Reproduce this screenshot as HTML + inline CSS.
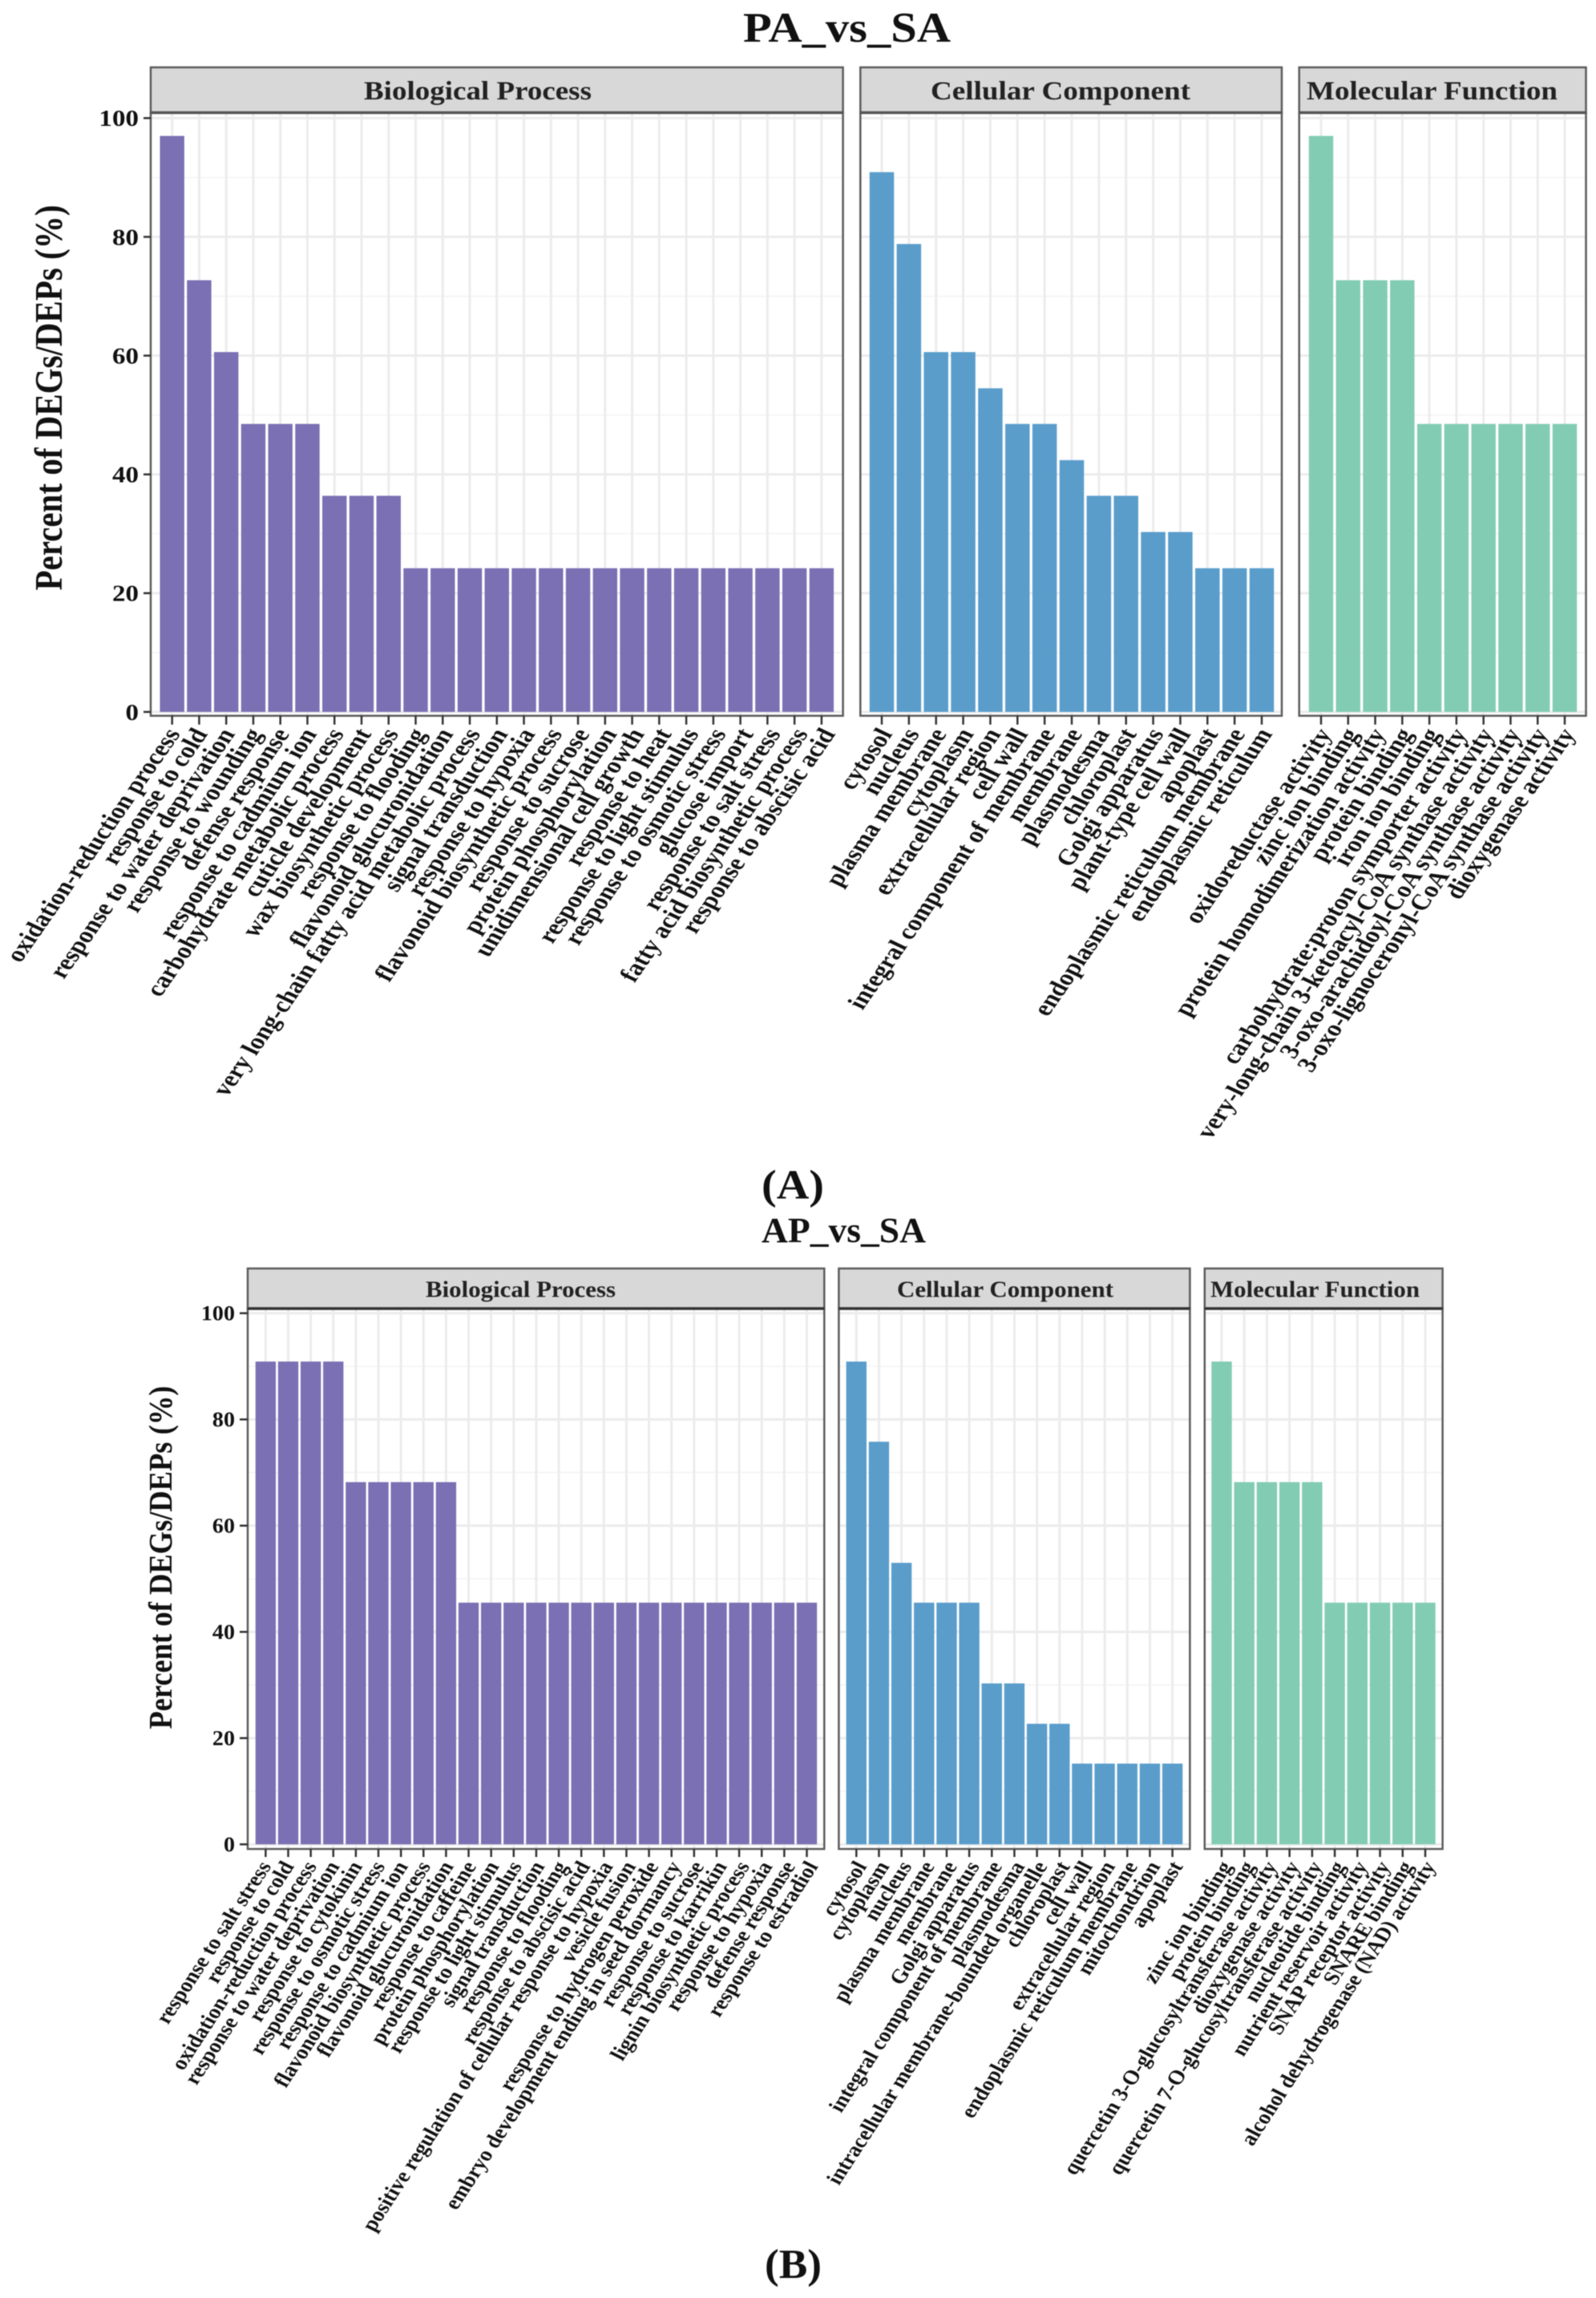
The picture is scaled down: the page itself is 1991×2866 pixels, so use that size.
<!DOCTYPE html>
<html lang="en">
<head>
<meta charset="utf-8">
<title>PA_vs_SA and AP_vs_SA GO enrichment</title>
<style>
html,body{margin:0;padding:0;background:#fff;}
#figure{display:block;width:1991px;height:2866px;font-family:"Liberation Serif",serif;font-weight:bold;filter:blur(0.6px);}
</style>
</head>
<body>
<svg id="figure" xmlns="http://www.w3.org/2000/svg" width="1991" height="2866" viewBox="0 0 1991 2866"></svg>
<script>
// ---- Figure A data: PA_vs_SA ----
const aBpCategories = ["oxidation-reduction process","response to cold","response to water deprivation","response to wounding","defense response","response to cadmium ion","carbohydrate metabolic process","cuticle development","wax biosynthetic process","response to flooding","flavonoid glucuronidation","very long-chain fatty acid metabolic process","signal transduction","response to hypoxia","flavonoid biosynthetic process","response to sucrose","protein phosphorylation","unidimensional cell growth","response to heat","response to light stimulus","response to osmotic stress","glucose import","response to salt stress","fatty acid biosynthetic process","response to abscisic acid"];
const aBpValues = [97,72.7,60.6,48.5,48.5,48.5,36.4,36.4,36.4,24.2,24.2,24.2,24.2,24.2,24.2,24.2,24.2,24.2,24.2,24.2,24.2,24.2,24.2,24.2,24.2];
const aCcCategories = ["cytosol","nucleus","plasma membrane","cytoplasm","extracellular region","cell wall","integral component of membrane","membrane","plasmodesma","chloroplast","Golgi apparatus","plant-type cell wall","apoplast","endoplasmic reticulum membrane","endoplasmic reticulum"];
const aCcValues = [90.9,78.8,60.6,60.6,54.5,48.5,48.5,42.4,36.4,36.4,30.3,30.3,24.2,24.2,24.2];
const aMfCategories = ["oxidoreductase activity","zinc ion binding","protein homodimerization activity","protein binding","iron ion binding","carbohydrate:proton symporter activity","very-long-chain 3-ketoacyl-CoA synthase activity","3-oxo-arachidoyl-CoA synthase activity","3-oxo-lignoceronyl-CoA synthase activity","dioxygenase activity"];
const aMfValues = [97,72.7,72.7,72.7,48.5,48.5,48.5,48.5,48.5,48.5];

// ---- Figure B data: AP_vs_SA ----
const bBpCategories = ["response to salt stress","response to cold","oxidation-reduction process","response to water deprivation","response to cytokinin","response to osmotic stress","response to cadmium ion","flavonoid biosynthetic process","flavonoid glucuronidation","response to caffeine","protein phosphorylation","response to light stimulus","signal transduction","response to flooding","response to abscisic acid","positive regulation of cellular response to hypoxia","vesicle fusion","response to hydrogen peroxide","embryo development ending in seed dormancy","response to sucrose","response to karrikin","lignin biosynthetic process","response to hypoxia","defense response","response to estradiol"];
const bBpValues = [90.9,90.9,90.9,90.9,68.2,68.2,68.2,68.2,68.2,45.5,45.5,45.5,45.5,45.5,45.5,45.5,45.5,45.5,45.5,45.5,45.5,45.5,45.5,45.5,45.5];
const bCcCategories = ["cytosol","cytoplasm","nucleus","plasma membrane","membrane","Golgi apparatus","integral component of membrane","plasmodesma","intracellular membrane-bounded organelle","chloroplast","cell wall","extracellular region","endoplasmic reticulum membrane","mitochondrion","apoplast"];
const bCcValues = [90.9,75.8,53,45.5,45.5,45.5,30.3,30.3,22.7,22.7,15.2,15.2,15.2,15.2,15.2];
const bMfCategories = ["zinc ion binding","protein binding","quercetin 3-O-glucosyltransferase activity","dioxygenase activity","quercetin 7-O-glucosyltransferase activity","nucleotide binding","nutrient reservoir activity","SNAP receptor activity","SNARE binding","alcohol dehydrogenase (NAD) activity"];
const bMfValues = [90.9,68.2,68.2,68.2,68.2,45.5,45.5,45.5,45.5,45.5];

// Shared y axis ticks
const yTickLabels = [0,20,40,60,80,100];
const yMinorTicks = [10,30,50,70,90];

const NS = "http://www.w3.org/2000/svg";
const svg = document.getElementById("figure");
const PURPLE = "#7b70b3", BLUE = "#5a9dcb", GREEN = "#82ccb3";
const GRID = "#ececec", BORDER = "#5c5c5c", INK = "#111111";

function make(tag, attrs, parent) {
  const el = document.createElementNS(NS, tag);
  for (const k in attrs) el.setAttribute(k, attrs[k]);
  (parent || svg).appendChild(el);
  return el;
}

function drawText(content, attrs, nameValue, parent) {
  const t = make("text", attrs, parent);
  t.textContent = content;
  
  
  return t;
}

function drawPanel(fig, p) {
  const g = make("g", {});
  
  

  const yScale = v => fig.y0 - (v / 100) * (fig.y0 - fig.y100);
  const n = p.categories.length;
  const step = (p.lastTick - p.firstTick) / (n - 1);
  const xScale = i => p.firstTick + i * step;
  const barW = step * 0.9;

  make("rect", {x:p.left, y:fig.stripBottom, width:p.right-p.left, height:fig.bottom-fig.stripBottom, fill:"#ffffff"}, g);

  yMinorTicks.forEach(v => {
    const m = make("line", {x1:p.left, x2:p.right, y1:yScale(v), y2:yScale(v), stroke:"#f3f3f3", "stroke-width":1.5}, g);
    
    
  });
  yTickLabels.forEach(v => {
    const m = make("line", {x1:p.left, x2:p.right, y1:yScale(v), y2:yScale(v), stroke:GRID, "stroke-width":3}, g);
    
    
  });
  p.categories.forEach((c, i) => {
    const m = make("line", {x1:xScale(i), x2:xScale(i), y1:fig.stripBottom, y2:fig.bottom, stroke:GRID, "stroke-width":3}, g);
    
    
  });

  p.values.forEach((v, i) => {
    const b = make("rect", {x:xScale(i)-barW/2, y:yScale(v), width:barW, height:fig.y0-yScale(v), fill:p.color}, g);
    
    
  });

  const frame = make("rect", {x:p.left, y:fig.stripBottom, width:p.right-p.left, height:fig.bottom-fig.stripBottom, fill:"none", stroke:BORDER, "stroke-width":2.5}, g);
  
  

  const strip = make("rect", {x:p.left, y:fig.stripTop, width:p.right-p.left, height:fig.stripBottom-fig.stripTop, fill:"#d8d8d8", stroke:BORDER, "stroke-width":2.5}, g);
  
  
  const stripLine = make("line", {x1:p.left, x2:p.right, y1:fig.stripBottom, y2:fig.stripBottom, stroke:fig.stripLine, "stroke-width":3.5}, g);
  
  

  drawText(p.title, {x:p.textX, y:fig.stripBaseline, "font-size":fig.stripFont, fill:"#222222", textLength:p.textW, lengthAdjust:"spacingAndGlyphs"}, "facet-title", g);

  p.categories.forEach((c, i) => {
    const tick = make("line", {x1:xScale(i), x2:xScale(i), y1:fig.bottom, y2:fig.bottom+fig.tickLen, stroke:"#333333", "stroke-width":2.5}, g);
    
    
    const labelDx = p.dxStart + (p.dxEnd - p.dxStart) * i / (n - 1);
    drawText(c, {
      transform:"translate(" + (xScale(i)+labelDx) + "," + (fig.bottom+fig.tickLen+fig.labelDy) + ") scale(" + fig.labelSx + ",1) rotate(-60)",
      "text-anchor":"end", dy:"0.68em", "font-size":fig.labelFont, fill:INK
    }, "x-tick-label", g);
  });
}

function drawFigure(fig) {
  fig.panels.forEach(p => drawPanel(fig, p));
  const yScale = v => fig.y0 - (v / 100) * (fig.y0 - fig.y100);
  const firstLeft = fig.panels[0].left;
  yTickLabels.forEach(v => {
    const tick = make("line", {x1:firstLeft-fig.yTickLen, x2:firstLeft, y1:yScale(v), y2:yScale(v), stroke:"#333333", "stroke-width":2.5});
    
    
    drawText(String(v), {
      transform:"translate(" + (firstLeft-fig.yTickLen-fig.yLabelGap) + "," + (yScale(v)+fig.yLabelFont*0.34) + ") scale(" + fig.tickSx + ",1)",
      "text-anchor":"end", "font-size":fig.yLabelFont, fill:INK
    }, "y-tick-label");
  });
  drawText("Percent of DEGs/DEPs (%)", {
    transform:"translate(" + fig.yTitleX + "," + fig.yTitleY + ") scale(" + fig.yTitleSx + ",1) rotate(-90)",
    "text-anchor":"middle", "font-size":fig.yTitleFont, fill:INK
  }, "y-axis-title");
  drawText(fig.title, {x:fig.titleX, y:fig.titleY, "font-size":fig.titleFont, fill:INK, textLength:fig.titleW, lengthAdjust:"spacingAndGlyphs"}, "chart-title");
  drawText(fig.tag, {x:fig.tagX, y:fig.tagY, "font-size":fig.tagFont, fill:INK, textLength:fig.tagW, lengthAdjust:"spacingAndGlyphs"}, "panel-tag");
}

drawFigure({
  id:"figure-a", title:"PA_vs_SA", titleX:927, titleY:52, titleFont:53, titleW:259,
  tag:"(A)", tagX:950, tagY:1495, tagFont:52, tagW:78,
  stripTop:84, stripBottom:140.5, bottom:892.7, y100:147.3, y0:887.9,
  stripBaseline:124, stripFont:33, stripLine:"#555555",
  tickLen:11, yTickLen:9, yLabelGap:6, yLabelFont:29, tickSx:1.14,
  labelDy:2, labelSx:1.21, labelFont:28,
  yTitleX:77, yTitleY:496, yTitleSx:1.18, yTitleFont:41,
  panels:[
    {key:"biological-process", title:"Biological Process", left:188, right:1051.6, firstTick:214.7, lastTick:1024.9, categories:aBpCategories, values:aBpValues, color:PURPLE, textX:454, textW:284, dxStart:-9, dxEnd:-2},
    {key:"cellular-component", title:"Cellular Component", left:1073.3, right:1599, firstTick:1100, lastTick:1574, categories:aCcCategories, values:aCcValues, color:BLUE, textX:1161, textW:324, dxStart:-6, dxEnd:-6},
    {key:"molecular-function", title:"Molecular Function", left:1620.7, right:1978.5, firstTick:1648, lastTick:1952, categories:aMfCategories, values:aMfValues, color:GREEN, textX:1630, textW:313, dxStart:-6, dxEnd:-6}
  ]
});

drawFigure({
  id:"figure-b", title:"AP_vs_SA", titleX:950, titleY:1549, titleFont:44, titleW:205,
  tag:"(B)", tagX:954, tagY:2841, tagFont:52, tagW:71,
  stripTop:1582, stripBottom:1632, bottom:2306, y100:1637.8, y0:2300.2,
  stripBaseline:1617.5, stripFont:28, stripLine:"#333333",
  tickLen:10, yTickLen:10, yLabelGap:6, yLabelFont:26, tickSx:1.08,
  labelDy:3, labelSx:1.133, labelFont:25,
  yTitleX:214, yTitleY:1942.5, yTitleSx:1.12, yTitleFont:36.5,
  panels:[
    {key:"biological-process", title:"Biological Process", left:309, right:1028.3, firstTick:331.4, lastTick:1006.5, categories:bBpCategories, values:bBpValues, color:PURPLE, textX:531, textW:237, dxStart:-9, dxEnd:-2},
    {key:"cellular-component", title:"Cellular Component", left:1046.4, right:1484.4, firstTick:1068.3, lastTick:1462.6, categories:bCcCategories, values:bCcValues, color:BLUE, textX:1119, textW:270, dxStart:-3, dxEnd:-3},
    {key:"molecular-function", title:"Molecular Function", left:1502.8, right:1799.6, firstTick:1524, lastTick:1778, categories:bMfCategories, values:bMfValues, color:GREEN, textX:1510, textW:261, dxStart:-3, dxEnd:-3}
  ]
});
</script>
</body>
</html>
